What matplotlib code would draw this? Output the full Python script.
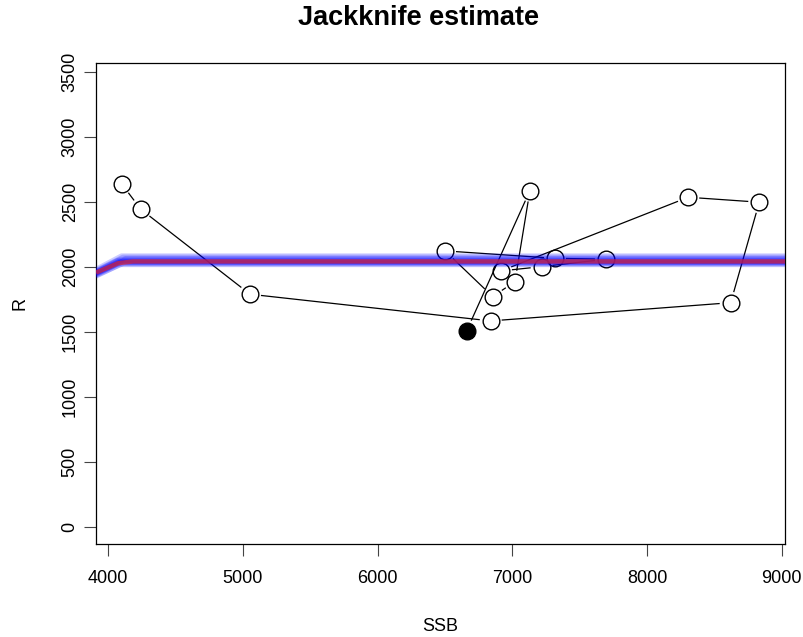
import numpy as np
import matplotlib.pyplot as plt

plt.rcParams['font.family'] = ['Liberation Sans', 'DejaVu Sans']

# stock-recruitment pairs, in year order (last year drawn filled)
ssb = [4102, 4243, 5054, 6840, 8621, 8833, 8306, 6916,
       7218, 7695, 7317, 6501, 6855, 7020, 7131, 6662]
rec = [2637, 2443, 1790, 1585, 1725, 2497, 2535, 1969,
       2002, 2059, 2066, 2123, 1772, 1887, 2586, 1510]

# hockey-stick fit for the full series
fit_ssb = [3911, 4074, 4186, 9024]
fit_rec = [1956, 2028, 2042, 2042]

# jackknife refits: value at the left edge, breakpoint, plateau
jk_left = [1925, 1935, 1930, 1945, 1940, 1950, 1955, 1948,
           1960, 1952, 1965, 1958, 1970, 1962, 1975, 1985]
jk_break = [4090, 4070, 4120, 4080, 4110, 4090, 4080, 4120,
            4080, 4110, 4070, 4120, 4090, 4130, 4110, 4100]
jk_plateau = [2014, 2020, 2026, 2030, 2034, 2037, 2040, 2042,
              2045, 2048, 2052, 2056, 2062, 2068, 2078, 2088]

xticks = [4000, 5000, 6000, 7000, 8000, 9000]
yticks = [0, 500, 1000, 1500, 2000, 2500, 3000, 3500]

fig = plt.figure(figsize=(8.04, 6.37), dpi=100)
W, H = 804, 637
ax = fig.add_axes([96 / W, 1 - 544.3 / H, (785 - 96) / W, (544.3 - 63.3) / H])
ax.set_xlim(3911, 9024)
ax.set_ylim(-131, 3564)

# connecting lines with a small gap at each point, like R's type="b"
gap = 11.0
pix = ax.transData.transform(np.column_stack([ssb, rec]))
inv = ax.transData.inverted()
for p0, p1 in zip(pix[:-1], pix[1:]):
    d = p1 - p0
    dist = np.hypot(*d)
    if dist <= 2 * gap:
        continue
    u = d / dist
    seg = inv.transform(np.array([p0 + u * gap, p1 - u * gap]))
    ax.plot(seg[:, 0], seg[:, 1], color='black', lw=0.9, zorder=2,
            solid_capstyle='butt')

ax.plot(ssb[:-1], rec[:-1], 'o', ms=12, mfc='none', mec='black', mew=1.0,
        zorder=3)
ax.plot(ssb[-1], rec[-1], 'o', ms=12, mfc='black', mec='black', zorder=3)

xr = ax.get_xlim()[1]
for left, bk, pl in zip(jk_left, jk_break, jk_plateau):
    ax.plot([fit_ssb[0], bk, xr], [left, pl, pl], color='blue', lw=3,
            alpha=0.2, zorder=4, solid_capstyle='butt')
ax.plot(fit_ssb, fit_rec, color='#ff2a10', lw=3.2, alpha=0.6, zorder=5,
        solid_capstyle='butt')

ax.set_xticks(xticks)
ax.set_yticks(yticks)
ax.set_yticklabels([str(v) for v in yticks], rotation=90, va='center')
ax.tick_params(axis='both', direction='out', length=8.5, width=0.8,
               color='#444444', labelsize=13)
ax.tick_params(axis='x', pad=10)
ax.tick_params(axis='y', pad=4)
for s in ax.spines.values():
    s.set_linewidth(0.9)

ax.set_xlabel('SSB', fontsize=13, labelpad=22)
ax.set_ylabel('R', fontsize=13, labelpad=24)
fig.text(419 / W, 1 - 18 / H, 'Jackknife estimate', fontsize=19.5,
         fontweight='bold', ha='center', va='center')

fig.savefig('out.png', dpi=100)
